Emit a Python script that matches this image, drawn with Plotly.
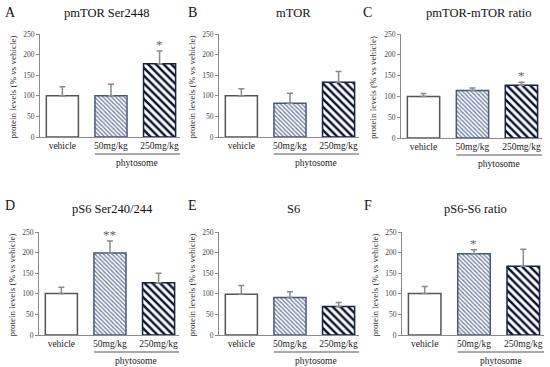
import plotly.graph_objects as go

W, H = 550, 367

groups = ["vehicle", "50mg/kg", "250mg/kg"]
panel_letters = ["A", "B", "C", "D", "E", "F"]
panel_titles = ["pmTOR Ser2448", "mTOR", "pmTOR-mTOR ratio",
                "pS6 Ser240/244", "S6", "pS6-S6 ratio"]

values = [
    [100, 100, 178],
    [100, 82, 133],
    [100, 114, 127],
    [101, 199, 127],
    [99, 91, 69],
    [101, 197, 167],
]
errors = [
    [22, 28, 31],
    [17, 24, 26],
    [7, 6, 7],
    [15, 29, 23],
    [21, 14, 10],
    [17, 10, 41],
]
signif = [
    ["", "", "*"],
    ["", "", ""],
    ["", "", "*"],
    ["", "**", ""],
    ["", "", ""],
    ["", "*", ""],
]
y_ticks = [0, 50, 100, 150, 200, 250]
y_title = "protein levels (% vs vehicle)"
group_label = "phytosome"

# pixel layout of each panel: (x_axis_left, x_axis_right, y_top(250), y_bottom(0))
panels_px = [
    (40, 180, 34, 137),
    (219, 359, 34, 137),
    (401, 542, 34, 138),
    (39, 179, 232, 335),
    (219, 359, 232, 335),
    (402, 544, 232, 335),
]
title_px = [(107, 13), (293, 13), (478, 13), (112, 209), (293, 209), (475, 209)]
letter_px = [(10, 12), (192, 12), (367, 12), (10, 205), (192, 205), (368, 205)]

SERIF = "Liberation Serif"
fills = [
    dict(color="white", line=dict(color="#555555", width=1.5)),
    dict(color="white", line=dict(color="#4a5878", width=1.5),
         pattern=dict(shape="\\", fgcolor="#7181a2", fgopacity=1, bgcolor="white",
                      size=3, solidity=0.45)),
    dict(color="white", line=dict(color="#16223e", width=1.5),
         pattern=dict(shape="\\", fgcolor="#0a1430", fgopacity=1, bgcolor="white",
                      size=5.5, solidity=0.45)),
]

fig = go.Figure()
annotations = []
shapes = []


def px2x(p):
    return p / W


def px2y(p):
    return 1 - p / H


for i in range(6):
    n = "" if i == 0 else str(i + 1)
    xl, xr, yt, yb = panels_px[i]
    for j in range(3):
        fig.add_trace(go.Bar(
            x=[groups[j]], y=[values[i][j]],
            xaxis="x" + n, yaxis="y" + n,
            width=0.66,
            marker=fills[j],
            error_y=dict(type="data", symmetric=False, array=[errors[i][j]],
                         arrayminus=[0], color="#8a8a8a", thickness=1.5, width=3),
            showlegend=False,
            hoverinfo="skip",
        ))
        if signif[i][j]:
            annotations.append(dict(
                x=groups[j], y=values[i][j] + errors[i][j], xref="x" + n, yref="y" + n,
                text=signif[i][j], showarrow=False, xanchor="center", yanchor="bottom", yshift=-3,
                font=dict(family=SERIF, size=13, color="#666666")))
    fig.update_layout(**{
        "xaxis" + n: dict(domain=[px2x(xl), px2x(xr)], anchor="y" + n,
                          range=[-0.46, 2.42], type="category", automargin=False,
                          categoryorder="array", categoryarray=groups,
                          showline=True, linecolor="#8a8a8a", linewidth=1,
                          ticks="", showgrid=False, zeroline=False,
                          tickfont=dict(family=SERIF, size=9.5, color="#222222")),
        "yaxis" + n: dict(domain=[px2y(yb), px2y(yt)], anchor="x" + n,
                          range=[0, 250], tickvals=y_ticks, automargin=False,
                          showline=True, linecolor="#8a8a8a", linewidth=1,
                          ticks="outside", ticklen=3, tickcolor="#8a8a8a",
                          showgrid=False, zeroline=False,
                          tickfont=dict(family=SERIF, size=7.5, color="#444444")),
    })
    # y-axis title
    annotations.append(dict(x=px2x(xl - 28), y=px2y((yt + yb) / 2 + 2), xref="paper", yref="paper",
                            text=y_title, textangle=-90, showarrow=False,
                            xanchor="center", yanchor="middle",
                            font=dict(family=SERIF, size=9, color="#333333")))
    # panel title
    tx, ty = title_px[i]
    annotations.append(dict(x=px2x(tx), y=px2y(ty), xref="paper", yref="paper",
                            text=panel_titles[i], showarrow=False,
                            xanchor="center", yanchor="middle",
                            font=dict(family=SERIF, size=12.5, color="#111111")))
    lx, ly = letter_px[i]
    annotations.append(dict(x=px2x(lx), y=px2y(ly), xref="paper", yref="paper",
                            text=panel_letters[i], showarrow=False,
                            xanchor="center", yanchor="middle",
                            font=dict(family=SERIF, size=14, color="#111111")))
    # group bracket line and label
    unit = (xr - xl) / 2.88
    x_start = xl + (1 - 0.33 + 0.46) * unit
    shapes.append(dict(type="line", xref="paper", yref="paper",
                       x0=px2x(x_start), x1=px2x(xr), y0=px2y(yb + 17), y1=px2y(yb + 17),
                       line=dict(color="#555555", width=1)))
    annotations.append(dict(x=px2x((x_start + xr) / 2), y=px2y(yb + 26), xref="paper", yref="paper",
                            text=group_label, showarrow=False,
                            xanchor="center", yanchor="middle",
                            font=dict(family=SERIF, size=9.5, color="#222222")))

fig.update_layout(
    width=W, height=H,
    margin=dict(l=0, r=0, t=0, b=0),
    paper_bgcolor="white", plot_bgcolor="white",
    annotations=annotations, shapes=shapes,
    bargap=0.3,
)

fig.write_html("out.html", config={"displayModeBar": False},
               post_script="document.body.style.margin='0px';")
